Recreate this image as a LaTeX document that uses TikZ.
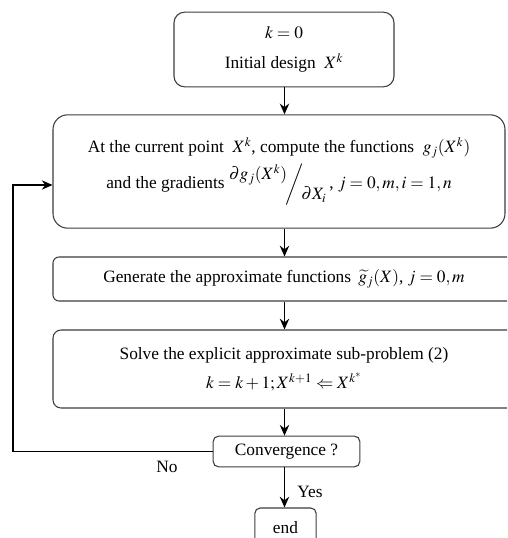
\documentclass[tikz,border=0pt]{standalone}
\usepackage{amsmath}
\usepackage{mathptmx}
\usepackage[no-math]{fontspec}
\setmainfont{Liberation Serif}
\usepackage{tikz}
\usetikzlibrary{arrows.meta,positioning}
\definecolor{boxline}{RGB}{60, 60, 60}

\begin{document}
\begin{tikzpicture}[x=0.75pt, y=-0.75pt,
    every node/.style={font=\fontsize{13}{16}\selectfont},
    stepbox/.style={draw=boxline, line width=0.8pt, align=center, inner sep=0pt},
    flow/.style={-{Stealth[length=8pt, width=7pt]}, line width=1.2pt}]

\clip (0,0) rectangle (507,538);

% The boxes, top to bottom
\node[stepbox, rounded corners=8pt, minimum width=165pt, minimum height=56pt]
  (init) at (284, 49.5) {$k=0$\\[7pt] Initial design \ $X^k$};
\node[stepbox, rounded corners=11pt, minimum width=339pt, minimum height=85pt]
  (comp) at (279, 171.5)
  {At the current point \ $X^k$, compute the functions \ $g_j(X^k)$\\[3pt]
   and the gradients \raisebox{1.1ex}{$\partial g_j(X^k)$}$\!\bigg/\!$\raisebox{-1.4ex}{$\partial X_i$}\,, $j=0,m,i=1,n$};
\node[stepbox, rounded corners=4.5pt, minimum width=346.5pt, minimum height=33pt]
  (gen) at (284, 279)
  {Generate the approximate functions \,$\widetilde{g}_j(X)$, $j=0,m$};
\node[stepbox, rounded corners=6pt, minimum width=346.5pt, minimum height=58.5pt]
  (solve) at (284, 369)
  {Solve the explicit approximate sub-problem (2)\\[6pt] $k=k+1;X^{k+1}\Leftarrow X^{k^*}$};
\node[stepbox, rounded corners=4pt, minimum width=110pt, minimum height=23pt]
  (conv) at (286.5, 451.5) {Convergence ?};
\node[stepbox, rounded corners=4pt, minimum width=46pt, minimum height=30pt]
  (stop) at (285.5, 528) {end};

% vertical axis of the straight arrows, and the corner of the loop
\coordinate (axis) at (284.5, 0);
\coordinate (loop) at (13, 185);

% straight arrows down the chart
\foreach \src/\dst in {init/comp, comp/gen, gen/solve, solve/conv, conv/stop} {
  \draw[flow] (\src.south -| axis) -- (\dst.north -| axis);
}
\node (yes) at (310, 492) {Yes};

% loop back when not converged
\draw[flow, line width=0.8pt] (conv.west) -| (loop) -- (loop -| comp.west);
\node (no) at (167, 467) {No};

\end{tikzpicture}
\end{document}
